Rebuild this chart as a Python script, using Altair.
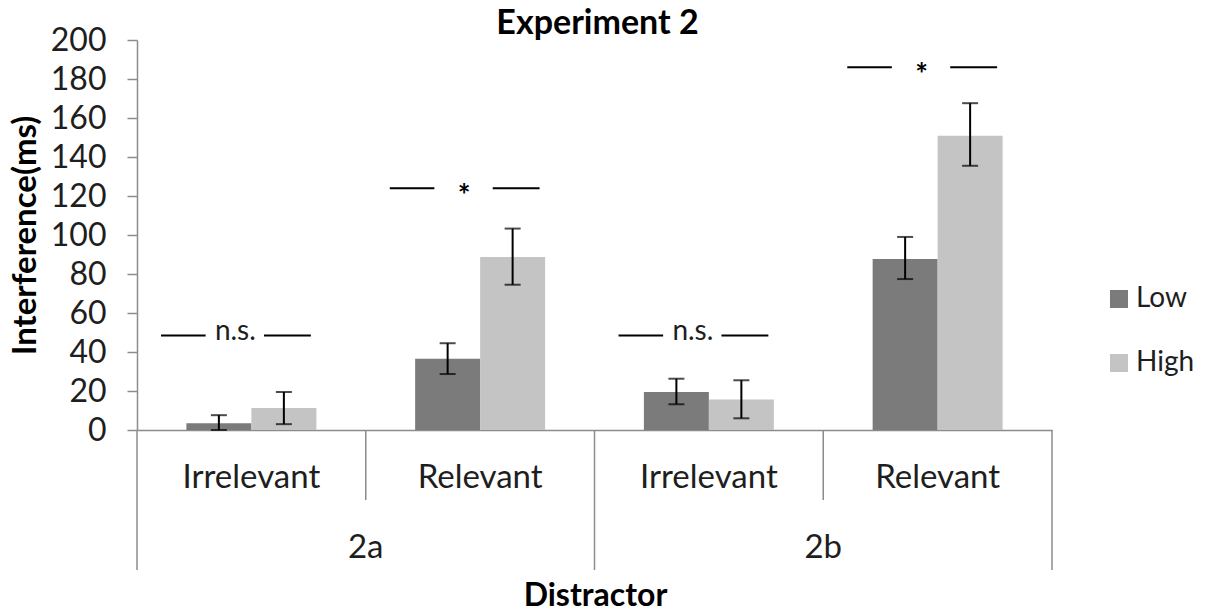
import altair as alt
import pandas as pd

# ---------------- data ----------------
experiments = ["2a", "2a", "2b", "2b"]
distractors = ["Irrelevant", "Relevant", "Irrelevant", "Relevant"]
levels = ["Low", "High"]

low_mean = [3.5, 36.5, 19.5, 87.7]
low_lo = [0.0, 28.7, 13.2, 77.4]
low_hi = [7.6, 44.5, 26.3, 99.0]

high_mean = [11.3, 88.7, 15.7, 150.9]
high_lo = [3.0, 74.5, 6.0, 135.5]
high_hi = [19.5, 103.3, 25.5, 167.6]

sig_labels = ["n.s.", "*", "n.s.", "*"]
sig_heights = [48.5, 124.0, 48.5, 186.0]

y_ticks = [0, 20, 40, 60, 80, 100, 120, 140, 160, 180, 200]

chart_title = "Experiment 2"
x_title = "Distractor"
y_title = "Interference(ms)"

colors = ["#7b7b7b", "#c4c4c4"]

# ---------------- tables ----------------
keys = [f"{e} {d}" for e, d in zip(experiments, distractors)]

rows = []
for i, k in enumerate(keys):
    rows.append(dict(key=k, level="Low", mean=low_mean[i], lo=low_lo[i], hi=low_hi[i]))
    rows.append(dict(key=k, level="High", mean=high_mean[i], lo=high_lo[i], hi=high_hi[i]))
bars_df = pd.DataFrame(rows)

cat_df = pd.DataFrame(dict(key=keys, distractor=distractors, experiment=experiments))
sig_df = pd.DataFrame(dict(key=keys, height=sig_heights, label=sig_labels))

group_first = cat_df.drop_duplicates("experiment", keep="first")
inner_df = cat_df[~cat_df["key"].isin(group_first["key"])]
outer_last = cat_df.tail(1)
titles_df = pd.DataFrame(dict(t=[chart_title]))
xtitle_df = pd.DataFrame(dict(t=[x_title]))

W, H = 915, 390
FONT = "Lato"
GRAY = "#8c8c8c"
TXT = "#1e1e1e"

xscale = alt.Scale(domain=keys, paddingInner=0, paddingOuter=0)
yscale = alt.Scale(domain=[0, 200], nice=False, zero=True)

x_axis = alt.Axis(
    labels=False, ticks=False, grid=False, domain=True,
    domainColor=GRAY, domainWidth=1.5, title=None,
)
y_axis = alt.Axis(
    values=y_ticks, tickCount=len(y_ticks), grid=False, tickSize=10, tickColor=GRAY, tickWidth=1.5,
    domainColor=GRAY, domainWidth=1.5, labelOverlap=False,
    labelFont=FONT, labelFontSize=32, labelColor=TXT, labelPadding=21,
    title=y_title, titleFont=FONT, titleFontSize=33, titleFontWeight="bold",
    titleColor="black", titleAngle=270, titleX=-112, titleY=H / 2,
    titleBaseline="middle", titleAlign="center",
)


def X(band=0.5):
    return alt.X("key:N", scale=xscale, bandPosition=band, axis=x_axis)


def Y(field):
    return alt.Y(field, scale=yscale, axis=y_axis)


xoff = alt.XOffset("level:N", scale=alt.Scale(domain=levels, paddingInner=0, paddingOuter=0.76))

bars = alt.Chart(bars_df).mark_bar().encode(
    x=X(),
    xOffset=xoff,
    y=Y("mean:Q"),
    color=alt.Color(
        "level:N",
        scale=alt.Scale(domain=levels, range=colors),
        legend=alt.Legend(
            title=None, orient="none", legendX=968, legendY=245,
            symbolType="square", symbolSize=324, symbolStrokeWidth=0,
            labelFont=FONT, labelFontSize=28, labelColor=TXT,
            labelOffset=3, rowPadding=36, padding=0,
        ),
    ),
)

err = alt.Chart(bars_df).mark_rule(color="black", strokeWidth=2).encode(
    x=X(), xOffset=xoff, y=Y("lo:Q"), y2="hi:Q"
)
cap_hi = alt.Chart(bars_df).mark_tick(color="black", orient="horizontal", size=16, thickness=2).encode(
    x=X(), xOffset=xoff, y=Y("hi:Q")
)
cap_lo = alt.Chart(bars_df).mark_tick(color="black", orient="horizontal", size=16, thickness=2).encode(
    x=X(), xOffset=xoff, y=Y("lo:Q")
)

sig_left = alt.Chart(sig_df).mark_rule(color="black", strokeWidth=2).encode(
    x=X(0.105), x2=alt.X2("key:N", bandPosition=0.30), y=Y("height:Q")
)
sig_right = alt.Chart(sig_df).mark_rule(color="black", strokeWidth=2).encode(
    x=X(0.555), x2=alt.X2("key:N", bandPosition=0.76), y=Y("height:Q")
)
sig_text_ns = alt.Chart(sig_df).transform_filter("datum.label != '*'").mark_text(
    font=FONT, fontSize=28, color=TXT, baseline="middle", dy=-3
).encode(x=X(0.43), y=Y("height:Q"), text="label:N")
sig_text_star = alt.Chart(sig_df).transform_filter("datum.label == '*'").mark_text(
    font=FONT, fontSize=30, fontWeight="bold", color="black", baseline="middle", dy=9
).encode(x=X(0.43), y=Y("height:Q"), text="label:N")

sep_inner = alt.Chart(inner_df).mark_rule(color=GRAY, strokeWidth=1.5).encode(
    x=X(0), y=alt.value(H), y2=alt.value(H + 70)
)
sep_outer = alt.Chart(group_first).mark_rule(color=GRAY, strokeWidth=1.5).encode(
    x=X(0), y=alt.value(H), y2=alt.value(H + 140)
)
sep_end = alt.Chart(outer_last).mark_rule(color=GRAY, strokeWidth=1.5).encode(
    x=X(1), y=alt.value(H), y2=alt.value(H + 140)
)

cat_labels = alt.Chart(cat_df).mark_text(
    font=FONT, fontSize=33, color=TXT, baseline="alphabetic"
).encode(x=X(0.5), y=alt.value(H + 58), text="distractor:N")

grp_labels = alt.Chart(group_first).mark_text(
    font=FONT, fontSize=33, color=TXT, baseline="alphabetic"
).encode(x=X(1), y=alt.value(H + 128), text="experiment:N")

title_mark = alt.Chart(titles_df).mark_text(
    font=FONT, fontSize=34, fontWeight="bold", color="black", baseline="alphabetic", align="center"
).encode(x=alt.value(W / 2 + 3), y=alt.value(-6), text="t:N")

xtitle_mark = alt.Chart(xtitle_df).mark_text(
    font=FONT, fontSize=32, fontWeight="bold", color="black", baseline="alphabetic", align="center"
).encode(x=alt.value(W / 2 + 1), y=alt.value(H + 176), text="t:N")

chart = alt.layer(
    bars, err, cap_hi, cap_lo,
    sig_left, sig_right, sig_text_ns, sig_text_star,
    sep_inner, sep_outer, sep_end, cat_labels, grp_labels,
    title_mark, xtitle_mark,
).properties(
    width=W, height=H,
    autosize=alt.AutoSizeParams(type="none"),
    padding={"left": 129, "top": 32, "right": 145, "bottom": 182},
).configure_view(stroke=None)

chart.save("out.html", embed_options={"renderer": "svg", "actions": False})
